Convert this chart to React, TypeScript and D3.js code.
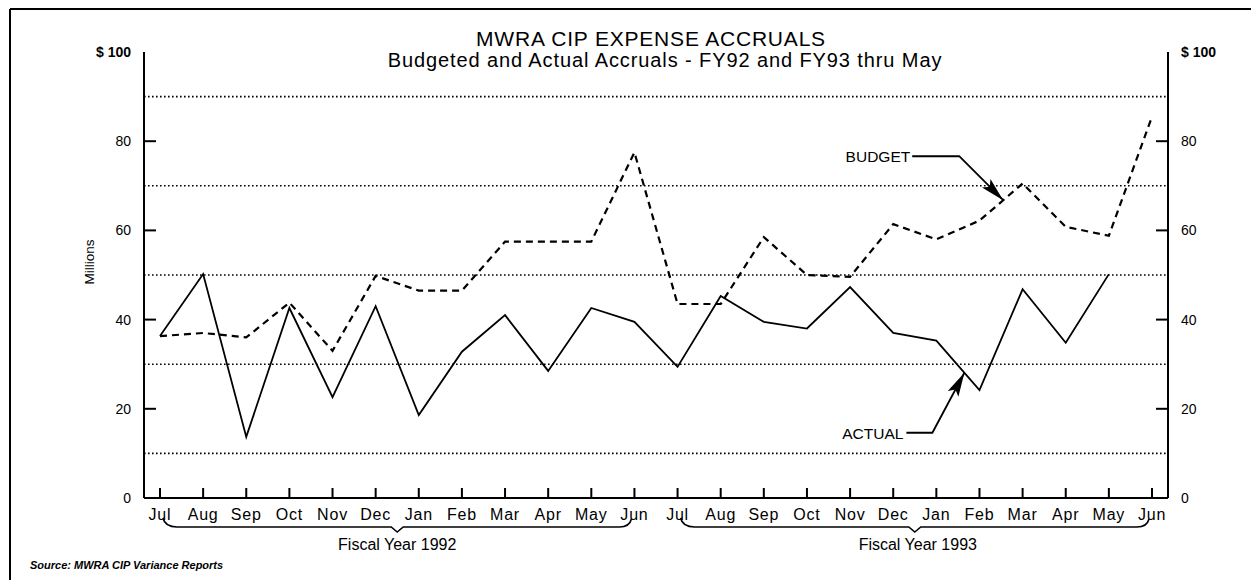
import * as d3 from "d3";

// FY92 + FY93 months (fiscal year starts in July)
const months = ["Jul", "Aug", "Sep", "Oct", "Nov", "Dec", "Jan", "Feb", "Mar", "Apr", "May", "Jun"];
const fiscalYears = ["1992", "1993"];
const periods = fiscalYears.flatMap((fy) => months.map((m) => `${fy}-${m}`));

// $ millions
const budget = [
  36.3, 37.0, 36.0, 43.8, 33.0, 49.8, 46.5, 46.5, 57.5, 57.5, 57.5, 77.5,
  43.5, 43.5, 58.5, 50.0, 49.6, 61.4, 58.0, 62.2, 70.5, 60.8, 58.8, 85.5,
];
const actual = [
  36.3, 50.2, 13.7, 42.6, 22.6, 43.0, 18.6, 32.8, 41.0, 28.5, 42.6, 39.5,
  29.4, 45.3, 39.5, 38.0, 47.3, 37.0, 35.3, 24.2, 46.8, 34.8, 50.2,
];

const yTicks = [0, 20, 40, 60, 80, 100];
const gridLines = [10, 30, 50, 70, 90];

const width = 1251;
const height = 580;
const left = 144;
const right = 1168;
const top = 52;
const bottom = 498;
const font = "'Liberation Sans', Arial, sans-serif";

export default function App() {
  const x = d3.scalePoint<string>().domain(periods).range([160, 1152]);
  const y = d3.scaleLinear().domain([0, 100]).range([bottom, top]);

  const line = d3
    .line<number>()
    .x((_, i) => x(periods[i])!)
    .y((d) => y(d));

  // point along a segment of a series, for the annotation arrows
  const along = (s: number[], i: number, t: number) => [
    x(periods[i])! + t * (x(periods[i + 1])! - x(periods[i])!),
    y(s[i] + t * (s[i + 1] - s[i])),
  ];
  const [bx, by] = along(budget, 19, 0.55);
  const [ax, ay] = along(actual, 18, 0.65);

  const brace = (x1: number, x2: number) => {
    const mid = (x1 + x2) / 2;
    const yb = 527;
    return `M${x1},${yb - 9} Q${x1 + 2},${yb} ${x1 + 14},${yb} L${mid - 6},${yb} L${mid},${yb + 5} L${mid + 6},${yb} L${x2 - 12},${yb} Q${x2 - 2},${yb} ${x2},${yb - 8}`;
  };

  return (
    <svg
      width={width}
      height={height}
      style={{ position: "absolute", left: 0, top: 0, background: "#fff" }}
      fontFamily={font}
    >
      <defs>
        <marker id="arrow" markerUnits="userSpaceOnUse" markerWidth={26} markerHeight={14} refX={24} refY={6} orient="auto">
          <path d="M0,0 L24,6 L0,12 L5,6 z" fill="#000" />
        </marker>
      </defs>

      {/* frame */}
      <line x1={10} x2={width} y1={9} y2={9} stroke="#000" strokeWidth={2} />
      <line x1={10} x2={10} y1={9} y2={height} stroke="#000" strokeWidth={2} />

      {/* title */}
      <text x={651} y={46} textAnchor="middle" fontSize={21} letterSpacing={0.8}>
        MWRA CIP EXPENSE ACCRUALS
      </text>
      <text x={665} y={67} textAnchor="middle" fontSize={20} letterSpacing={0.9}>
        Budgeted and Actual Accruals - FY92 and FY93 thru May
      </text>

      {/* gridlines */}
      {gridLines.map((g) => (
        <line key={g} x1={left} x2={right} y1={y(g)} y2={y(g)} stroke="#000" strokeWidth={1.6} strokeDasharray="1.6,2.4" />
      ))}

      {/* axes */}
      <line x1={left} x2={left} y1={top} y2={bottom} stroke="#000" strokeWidth={2} />
      <line x1={right} x2={right} y1={top} y2={bottom} stroke="#000" strokeWidth={2} />
      <line x1={left} x2={right} y1={bottom} y2={bottom} stroke="#000" strokeWidth={2} />
      {yTicks.map((t) => (
        <g key={t}>
          {t > 0 && t < 100 && (
            <>
              <line x1={left} x2={left + 12} y1={y(t)} y2={y(t)} stroke="#000" strokeWidth={2} />
              <line x1={right - 12} x2={right} y1={y(t)} y2={y(t)} stroke="#000" strokeWidth={2} />
            </>
          )}
          <text x={131} y={y(t) + 5} textAnchor="end" fontSize={14} fontWeight={t === 100 ? "bold" : "normal"}>
            {t === 100 ? "$ 100" : t}
          </text>
          <text x={1181} y={y(t) + 5} fontSize={14} fontWeight={t === 100 ? "bold" : "normal"}>
            {t === 100 ? "$ 100" : t}
          </text>
        </g>
      ))}
      <text transform={`translate(94,262) rotate(-90)`} textAnchor="middle" fontSize={13.5}>Millions</text>

      {/* month ticks and labels */}
      {periods.map((p, i) => (
        <g key={p}>
          <line x1={x(p)} x2={x(p)} y1={bottom - 10} y2={bottom} stroke="#000" strokeWidth={2} />
          <text x={x(p)} y={520} textAnchor="middle" fontSize={16} letterSpacing={0.8}>
            {months[i % 12]}
          </text>
        </g>
      ))}

      {/* fiscal year braces */}
      {fiscalYears.map((fy, k) => {
        const x1 = x(`${fy}-Jul`)! + 3;
        const x2 = x(`${fy}-Jun`)! - 3;
        return (
          <g key={fy}>
            <path d={brace(x1, x2)} fill="none" stroke="#000" strokeWidth={1.6} />
            <text x={(x1 + x2) / 2 + k * 3} y={550} textAnchor="middle" fontSize={16}>
              Fiscal Year {fy}
            </text>
          </g>
        );
      })}

      {/* series */}
      <path d={line(budget)!} fill="none" stroke="#000" strokeWidth={2.2} strokeDasharray="7,5" />
      <path d={line(actual)!} fill="none" stroke="#000" strokeWidth={1.8} strokeLinejoin="miter" />

      {/* annotations */}
      <text x={bx - 93} y={by - 38} textAnchor="end" fontSize={15.5}>BUDGET</text>
      <polyline
        points={`${bx - 91},${by - 44} ${bx - 44},${by - 44} ${bx},${by}`}
        fill="none"
        stroke="#000"
        strokeWidth={1.8}
        markerEnd="url(#arrow)"
      />
      <text x={ax - 61} y={ay + 66} textAnchor="end" fontSize={15.5}>ACTUAL</text>
      <polyline
        points={`${ax - 58},${ay + 60} ${ax - 32},${ay + 60} ${ax},${ay}`}
        fill="none"
        stroke="#000"
        strokeWidth={1.8}
        markerEnd="url(#arrow)"
      />

      <text x={30} y={569} fontSize={11} fontStyle="italic" fontWeight="bold">
        Source: MWRA CIP Variance Reports
      </text>
    </svg>
  );
}
